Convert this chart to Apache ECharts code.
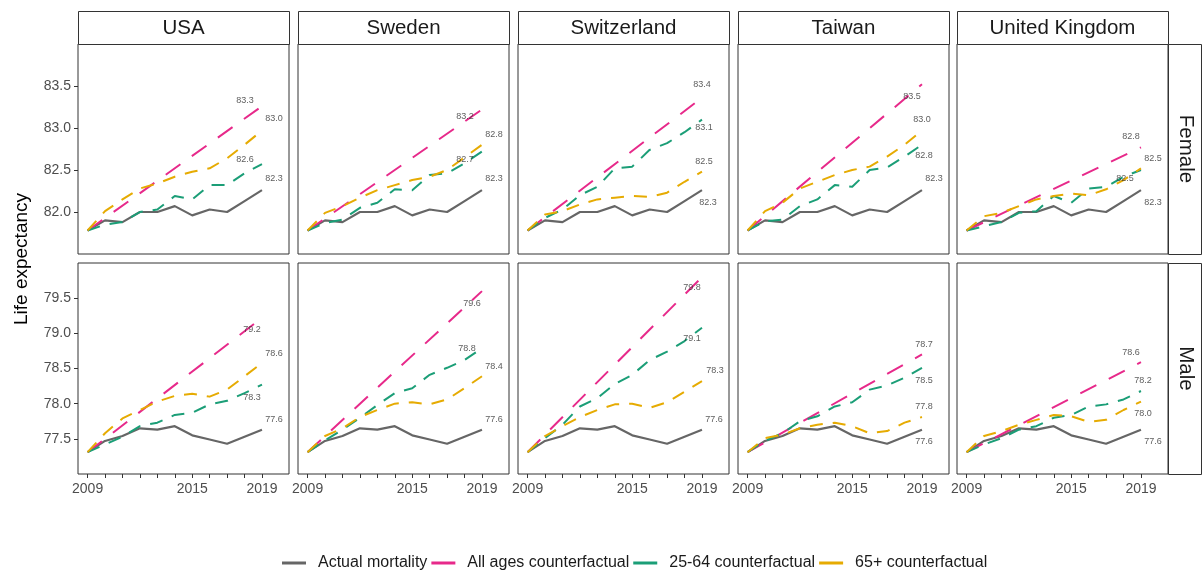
<!DOCTYPE html>
<html>
<head>
<meta charset="utf-8">
<script src="https://cdn.jsdelivr.net/npm/echarts@6/dist/echarts.min.js"></script>
<style>
  html, body { margin: 0; padding: 0; background: #ffffff; }
  #chart { width: 1203px; height: 570px; }
</style>
</head>
<body>
<div id="chart"></div>
<script>
// ---- data -------------------------------------------------------------
const countries = ['USA', 'Sweden', 'Switzerland', 'Taiwan', 'United Kingdom'];
const sexes = ['Female', 'Male'];
const years = [2009, 2010, 2011, 2012, 2013, 2014, 2015, 2016, 2017, 2018, 2019];
const groupNames = ['Actual mortality', 'All ages counterfactual', '25-64 counterfactual', '65+ counterfactual'];

// observed life expectancy (same reference trajectory in every panel)
const femaleActual = [81.78, 81.90, 81.88, 82.00, 82.00, 82.07, 81.96, 82.03, 82.00, 82.13, 82.26];
const maleActual   = [77.31, 77.47, 77.54, 77.65, 77.63, 77.68, 77.55, 77.49, 77.43, 77.53, 77.63];

// all-ages counterfactual: straight trend from 2009 to this 2019 value
const femaleAllAgesEnd = [83.26, 83.22, 83.36, 83.52, 82.77];
const maleAllAgesEnd   = [79.22, 79.60, 79.80, 78.70, 78.59];

// 25-64 counterfactual, one row per country
const female2564 = [
  [81.78, 81.85, 81.88, 82.00, 82.03, 82.19, 82.15, 82.32, 82.32, 82.46, 82.57],
  [81.78, 81.87, 81.91, 82.05, 82.11, 82.27, 82.26, 82.44, 82.46, 82.58, 82.72],
  [81.78, 81.93, 82.03, 82.20, 82.30, 82.52, 82.54, 82.74, 82.82, 82.95, 83.10],
  [81.78, 81.89, 81.91, 82.07, 82.15, 82.32, 82.30, 82.50, 82.53, 82.66, 82.80],
  [81.78, 81.83, 81.88, 81.99, 82.01, 82.19, 82.11, 82.28, 82.30, 82.42, 82.50]
];
const male2564 = [
  [77.31, 77.42, 77.53, 77.68, 77.73, 77.84, 77.87, 77.99, 78.04, 78.15, 78.27],
  [77.31, 77.48, 77.63, 77.80, 77.98, 78.15, 78.22, 78.41, 78.51, 78.62, 78.79],
  [77.31, 77.51, 77.70, 77.96, 78.08, 78.28, 78.41, 78.62, 78.74, 78.89, 79.08],
  [77.31, 77.47, 77.58, 77.75, 77.82, 77.96, 78.02, 78.20, 78.26, 78.37, 78.51],
  [77.31, 77.42, 77.51, 77.63, 77.68, 77.80, 77.84, 77.96, 77.99, 78.06, 78.18]
];

// 65+ counterfactual, one row per country
const female65 = [
  [81.78, 82.01, 82.15, 82.28, 82.34, 82.42, 82.48, 82.52, 82.64, 82.80, 82.97],
  [81.78, 81.99, 82.07, 82.17, 82.26, 82.32, 82.38, 82.42, 82.50, 82.65, 82.80],
  [81.78, 81.97, 82.01, 82.09, 82.15, 82.17, 82.19, 82.18, 82.23, 82.36, 82.48],
  [81.78, 82.01, 82.11, 82.28, 82.36, 82.44, 82.50, 82.54, 82.66, 82.80, 82.97],
  [81.78, 81.95, 81.99, 82.07, 82.15, 82.19, 82.22, 82.20, 82.27, 82.38, 82.52]
];
const male65 = [
  [77.31, 77.58, 77.79, 77.91, 78.03, 78.11, 78.14, 78.10, 78.20, 78.39, 78.58],
  [77.31, 77.54, 77.65, 77.81, 77.91, 78.00, 78.02, 77.99, 78.06, 78.22, 78.39],
  [77.31, 77.54, 77.68, 77.81, 77.91, 77.99, 78.00, 77.94, 78.02, 78.17, 78.32],
  [77.31, 77.51, 77.56, 77.65, 77.70, 77.73, 77.68, 77.58, 77.61, 77.73, 77.81],
  [77.31, 77.54, 77.61, 77.70, 77.77, 77.84, 77.82, 77.74, 77.77, 77.91, 78.03]
];

// axis ticks
const xTickYears  = years;
const xLabelYears = [2009, 2015, 2019];
const femaleTicks = [82.0, 82.5, 83.0, 83.5];
const maleTicks   = [77.5, 78.0, 78.5, 79.0, 79.5];
const femaleRange = [81.5, 84.0];
const maleRange   = [77.0, 80.0];

// ---- layout & style ---------------------------------------------------
const FONT = '"Liberation Sans", Arial, Helvetica, sans-serif';
const COL_LEFT = [78, 298, 518, 738, 957];
const PANEL_W = 211;
const ROW_TOP = [44, 263];
const PANEL_H = [210, 211];
const STRIP_TOP = 11;
const STRIP = 33;

const groupColors = ['#666666', '#E7298A', '#1B9E77', '#E6AB02'];
const groupDash = ['solid', [18, 14], [13, 10], [13, 10]];
const groupWidth = [2.2, 2, 2, 2];

// pixel offsets of the 2019 end labels [sex][country][group]
const labelOffsets = [
  [
    [[12, -12], [-17, -6], [-17, -5], [12, -12]],
    [[12, -12], [-17, 7], [-17, 8], [12, -10]],
    [[6, 12], [0, -13], [2, 8], [2, -10]],
    [[12, -12], [-10, 12], [2, 11], [0, -11]],
    [[12, 12], [-10, -11], [-16, 9], [12, -10]]
  ],
  [
    [[12, -10], [-10, 12], [-10, 13], [12, -9]],
    [[12, -10], [-10, 12], [-15, 0], [12, -10]],
    [[12, -10], [-10, 10], [-10, 11], [13, -11]],
    [[2, 12], [2, -10], [2, 13], [2, -11]],
    [[12, 12], [-10, -10], [2, -10], [2, 12]]
  ]
];

// ---- build option -----------------------------------------------------
const grids = [], xAxes = [], yAxes = [], series = [], graphics = [];

sexes.forEach((sex, s) => {
  const actual = s === 0 ? femaleActual : maleActual;
  const allEnd = s === 0 ? femaleAllAgesEnd : maleAllAgesEnd;
  const working = s === 0 ? female2564 : male2564;
  const older = s === 0 ? female65 : male65;
  const range = s === 0 ? femaleRange : maleRange;
  const ticks = s === 0 ? femaleTicks : maleTicks;
  const bottom = s === 1;

  countries.forEach((country, c) => {
    const g = grids.length;
    grids.push({
      left: COL_LEFT[c], top: ROW_TOP[s], width: PANEL_W, height: PANEL_H[s],
      show: true, borderColor: '#333333', borderWidth: 1, backgroundColor: 'transparent'
    });
    xAxes.push({
      type: 'value', gridIndex: g, min: 2008.45, max: 2020.55,
      splitLine: { show: false },
      axisLine: { show: false },
      axisTick: { show: bottom, customValues: xTickYears, length: 4, inside: false,
                  lineStyle: { color: '#333333', width: 1 } },
      axisLabel: { show: bottom, customValues: xLabelYears, margin: 8,
                   fontSize: 14, color: '#4d4d4d', fontFamily: FONT,
                   formatter: v => String(Math.round(v)) }
    });
    yAxes.push({
      type: 'value', gridIndex: g, min: range[0], max: range[1],
      splitLine: { show: false },
      axisLine: { show: false },
      axisTick: { show: c === 0, customValues: ticks, length: 4, inside: false,
                  lineStyle: { color: '#333333', width: 1 } },
      axisLabel: { show: c === 0, customValues: ticks, margin: 7,
                   fontSize: 14, color: '#4d4d4d', fontFamily: FONT,
                   formatter: v => v.toFixed(1) }
    });

    const lines = [
      years.map((y, i) => [y, actual[i]]),
      [[years[0], actual[0]], [years[years.length - 1], allEnd[c]]],
      years.map((y, i) => [y, working[c][i]]),
      years.map((y, i) => [y, older[c][i]])
    ];

    lines.forEach((data, k) => {
      series.push({
        type: 'line', name: groupNames[k], xAxisIndex: g, yAxisIndex: g,
        data: data, symbol: 'none', showSymbol: false, silent: true,
        color: groupColors[k],
        itemStyle: { color: groupColors[k] },
        lineStyle: { color: groupColors[k], width: groupWidth[k], type: groupDash[k], cap: 'butt', join: 'round' },
        z: 2 + k
      });
      const last = data[data.length - 1];
      series.push({
        type: 'scatter', xAxisIndex: g, yAxisIndex: g, silent: true, z: 10,
        symbolSize: 1, itemStyle: { color: 'rgba(0,0,0,0)' },
        data: [{ value: last, label: { offset: labelOffsets[s][c][k] } }],
        label: { show: true, position: 'inside', align: 'center', verticalAlign: 'middle',
                 fontSize: 9, color: '#333333', fontFamily: FONT,
                 formatter: p => p.value[1].toFixed(1) }
      });
    });

    // column strip with the country name
    if (s === 0) {
      graphics.push({
        type: 'rect', z: 20,
        shape: { x: COL_LEFT[c] + 0.5, y: STRIP_TOP + 0.5, width: PANEL_W, height: STRIP },
        style: { fill: '#ffffff', stroke: '#333333', lineWidth: 1 }
      });
      graphics.push({
        type: 'text', z: 21,
        x: COL_LEFT[c] + PANEL_W / 2, y: STRIP_TOP + STRIP / 2 + 1,
        style: { text: country, fill: '#1a1a1a', font: '20.5px ' + FONT,
                 textAlign: 'center', textVerticalAlign: 'middle' }
      });
    }
  });

  // row strip with the sex
  const stripX = COL_LEFT[4] + PANEL_W;
  graphics.push({
    type: 'rect', z: 20,
    shape: { x: stripX + 0.5, y: ROW_TOP[s] + 0.5, width: STRIP, height: PANEL_H[s] },
    style: { fill: '#ffffff', stroke: '#333333', lineWidth: 1 }
  });
  graphics.push({
    type: 'text', z: 21,
    x: stripX + STRIP / 2 + 1, y: ROW_TOP[s] + PANEL_H[s] / 2,
    rotation: -Math.PI / 2,
    style: { text: sex, fill: '#1a1a1a', font: '20.5px ' + FONT,
             textAlign: 'center', textVerticalAlign: 'middle' }
  });
});

// y-axis title
graphics.push({
  type: 'text', z: 21, x: 22, y: 259, rotation: Math.PI / 2,
  style: { text: 'Life expectancy', fill: '#000000', font: '19px ' + FONT,
           textAlign: 'center', textVerticalAlign: 'middle' }
});

const option = {
  animation: false,
  backgroundColor: '#ffffff',
  textStyle: { fontFamily: FONT },
  grid: grids,
  xAxis: xAxes,
  yAxis: yAxes,
  series: series,
  graphic: graphics,
  legend: {
    data: groupNames,
    left: 282, top: 555, padding: 0,
    icon: 'rect',
    itemWidth: 24, itemHeight: 3, itemGap: 4,
    textStyle: { fontSize: 16, color: '#1a1a1a', fontFamily: FONT, padding: [0, 0, 0, 7] },
    selectedMode: false
  }
};

const chart = echarts.init(document.getElementById('chart'), null, { renderer: 'canvas' });
chart.setOption(option);
</script>
</body>
</html>
